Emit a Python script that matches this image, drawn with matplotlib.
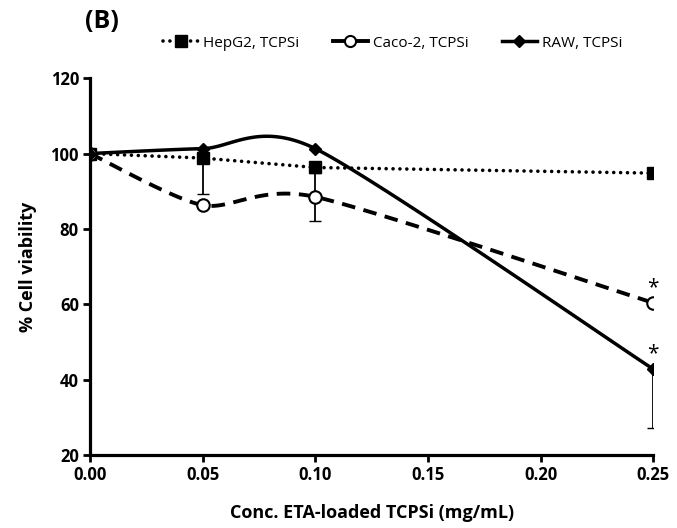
import numpy as np
import matplotlib.pyplot as plt
from matplotlib.lines import Line2D

# Concentrations (mg/mL) and viability (%) for each cell line
conc = [0.00, 0.05, 0.10, 0.25]
hepg2 = [100.0, 98.8, 96.3, 94.8]
caco2 = [100.0, 86.3, 88.5, 60.4]
raw = [100.0, 101.3, 101.3, 42.8]

# Lower error bars (only the ones that show)
hepg2_err = [0, 9.6, 0, 0]
caco2_err = [0, 0, 6.3, 0]
raw_err = [0, 0, 0, 15.5]


def smooth(x, y, n=40, tension=0.75):
    # cubic Bezier pieces through the points, spreadsheet style "smoothed line"
    p = np.column_stack([x, y]).astype(float)
    p = np.vstack([p[0], p, p[-1]])
    out = []
    for i in range(1, len(p) - 2):
        p0, p1, p2, p3 = p[i - 1], p[i], p[i + 1], p[i + 2]
        c1 = p1 + tension * (p2 - p0) / 6
        c2 = p2 - tension * (p3 - p1) / 6
        t = np.linspace(0, 1, n)[:, None]
        out.append((1 - t) ** 3 * p1 + 3 * (1 - t) ** 2 * t * c1
                   + 3 * (1 - t) * t ** 2 * c2 + t ** 3 * p2)
    out = np.vstack(out)
    return out[:, 0], out[:, 1]


plt.rcParams['font.family'] = ['Open Sans', 'DejaVu Sans']

fig = plt.figure(figsize=(6.77, 5.28), dpi=100)
ax = fig.add_axes([0.133, 0.138, 0.832, 0.714])

dots = (0, (0.01, 1.9))

# HepG2: dotted straight line
ax.plot(conc, hepg2, color='black', lw=2.6, linestyle=dots,
        dash_capstyle='round', zorder=3)
ax.plot(conc, hepg2, linestyle='none', marker='s', markersize=9, color='black', zorder=4)
ax.errorbar(conc[1:], hepg2[1:], yerr=[hepg2_err[1:], [0] * 3], fmt='none',
            ecolor='black', elinewidth=1.3, capsize=4, zorder=2)

# Caco-2: dashed smoothed line
sx, sy = smooth(conc, caco2)
ax.plot(sx, sy, color='black', lw=2.8, linestyle=(0, (3.5, 2.2)), zorder=3)
ax.plot(conc, caco2, linestyle='none', marker='o', markersize=9,
        markerfacecolor='white', markeredgecolor='black', markeredgewidth=1.5, zorder=4)
ax.errorbar(conc, caco2, yerr=[caco2_err, caco2_err], fmt='none',
            ecolor='black', elinewidth=1.3, capsize=4, zorder=2)

# RAW: solid smoothed line
sx, sy = smooth(conc, raw)
ax.plot(sx, sy, color='black', lw=2.5, zorder=3)
ax.plot(conc, raw, linestyle='none', marker='D', markersize=6, color='black', zorder=4)
ax.errorbar(conc, raw, yerr=[raw_err, [0] * 4], fmt='none',
            ecolor='black', elinewidth=1.3, capsize=4, zorder=2)

# significance marks
ax.text(conc[3], caco2[3] + 1.2, '*', ha='center', va='bottom', fontsize=15)
ax.text(conc[3], raw[3] + 1.2, '*', ha='center', va='bottom', fontsize=15)

ax.set_xlim(0, 0.25)
ax.set_ylim(20, 120)
ax.set_xticks([0, 0.05, 0.10, 0.15, 0.20, 0.25])
ax.set_xticklabels(['0.00', '0.05', '0.10', '0.15', '0.20', '0.25'])
ax.set_yticks([20, 40, 60, 80, 100, 120])
for s in ['top', 'right']:
    ax.spines[s].set_visible(False)
for s in ['left', 'bottom']:
    ax.spines[s].set_linewidth(2.3)
ax.tick_params(width=2, length=5, direction='out', labelsize=12, pad=3)
for lab in ax.get_xticklabels() + ax.get_yticklabels():
    lab.set_fontweight('bold')
ax.set_xlabel('Conc. ETA-loaded TCPSi (mg/mL)', fontsize=13, fontweight='bold', labelpad=14)
ax.set_ylabel('% Cell viability', fontsize=13, fontweight='bold', labelpad=10)

handles = [
    Line2D([], [], color='black', lw=2.6, linestyle=dots, dash_capstyle='round',
           marker='s', markersize=9),
    Line2D([], [], color='black', lw=2.8, linestyle='-', marker='o', markersize=8,
           markerfacecolor='white', markeredgewidth=1.5),
    Line2D([], [], color='black', lw=2.5, marker='D', markersize=6),
]
fig.legend(handles, ['HepG2, TCPSi', 'Caco-2, TCPSi', 'RAW, TCPSi'], loc='center',
           bbox_to_anchor=(0.58, 0.918), ncol=3, frameon=False, fontsize=11,
           handlelength=2.3, handletextpad=0.3, columnspacing=2.2)

fig.text(0.125, 0.935, '(B)', fontsize=18, fontweight='bold', ha='left', va='bottom')

fig.savefig('out.png', dpi=100)
